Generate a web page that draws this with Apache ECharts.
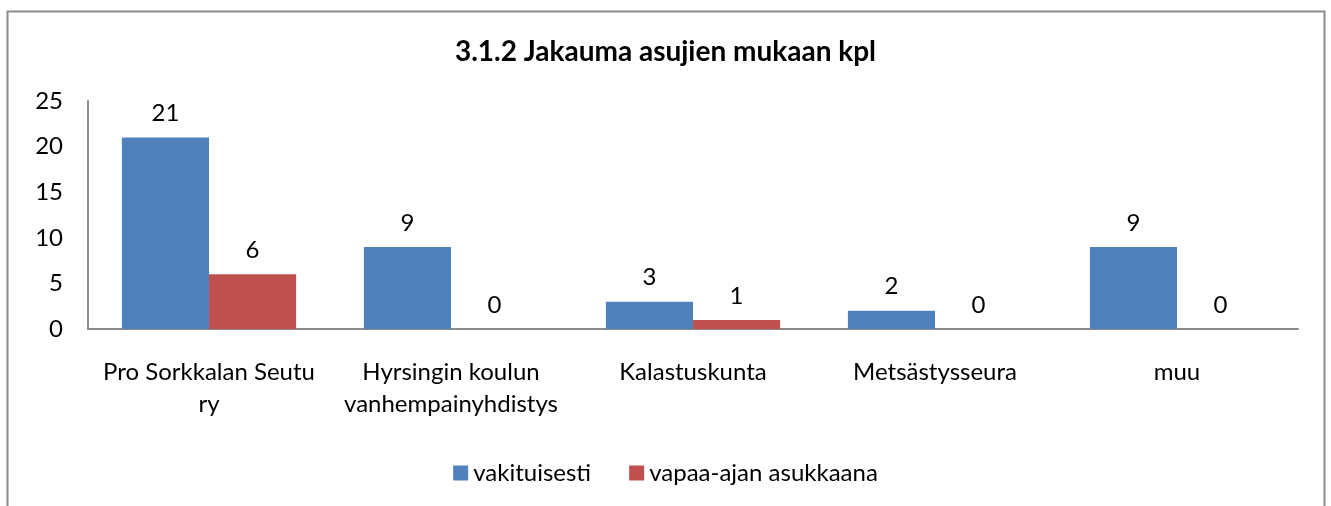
<!DOCTYPE html>
<html>
<head>
<meta charset="utf-8">
<script src="https://cdn.jsdelivr.net/npm/echarts@6/dist/echarts.min.js"></script>
<style>
  html, body { margin: 0; padding: 0; background: #fff; }
  #main { width: 1331px; height: 506px; }
</style>
</head>
<body>
<div id="main"></div>
<script>
var categories = ['Pro Sorkkalan Seutu\nry', 'Hyrsingin koulun\nvanhempainyhdistys', 'Kalastuskunta', 'Metsästysseura', 'muu'];
var vakituisesti = [21, 9, 3, 2, 9];
var vapaaAjan = [6, 0, 1, 0, 0];
var yTicks = { min: 0, max: 25, interval: 5 };

var font = 'Lato, "Open Sans", sans-serif';
var chart = echarts.init(document.getElementById('main'));

chart.setOption({
    textStyle: { fontFamily: font },
    animation: false,
    title: {
        text: '3.1.2 Jakauma asujien mukaan kpl',
        left: 'center',
        top: 33,
        textStyle: { fontSize: 28, fontWeight: 'bold', color: '#000', fontFamily: font }
    },
    legend: {
        bottom: 16,
        left: 'center',
        itemWidth: 15,
        itemHeight: 15,
        itemGap: 38,
        icon: 'rect',
        textStyle: { fontSize: 24, color: '#000', fontFamily: font },
        data: ['vakituisesti', 'vapaa-ajan asukkaana']
    },
    grid: { left: 88, right: 33, top: 101, height: 228 },
    graphic: [{
        type: 'rect',
        shape: { x: 7.5, y: 11.5, width: 1317, height: 540 },
        style: { fill: 'none', stroke: '#8c8c8c', lineWidth: 2 },
        silent: true
    }],
    xAxis: {
        type: 'category',
        data: categories,
        axisLine: { lineStyle: { color: '#8c8c8c', width: 2 } },
        axisTick: { show: false },
        axisLabel: { fontSize: 24, color: '#000', lineHeight: 32, margin: 27, interval: 0, fontFamily: font }
    },
    yAxis: {
        type: 'value',
        min: yTicks.min,
        max: yTicks.max,
        interval: yTicks.interval,
        splitLine: { show: false },
        axisLine: { show: true, lineStyle: { color: '#8c8c8c', width: 2 } },
        axisTick: { show: false },
        axisLabel: { fontSize: 24, color: '#000', margin: 25, fontFamily: font }
    },
    series: [{
        name: 'vakituisesti',
        type: 'bar',
        data: vakituisesti,
        barGap: '0%',
        barCategoryGap: '28%',
        itemStyle: { color: '#4f81bd' },
        label: { show: true, position: 'top', distance: 12, fontSize: 24, color: '#000', fontFamily: font }
    }, {
        name: 'vapaa-ajan asukkaana',
        type: 'bar',
        data: vapaaAjan,
        itemStyle: { color: '#c0504d' },
        label: { show: true, position: 'top', distance: 12, fontSize: 24, color: '#000', fontFamily: font }
    }]
});
</script>
</body>
</html>
